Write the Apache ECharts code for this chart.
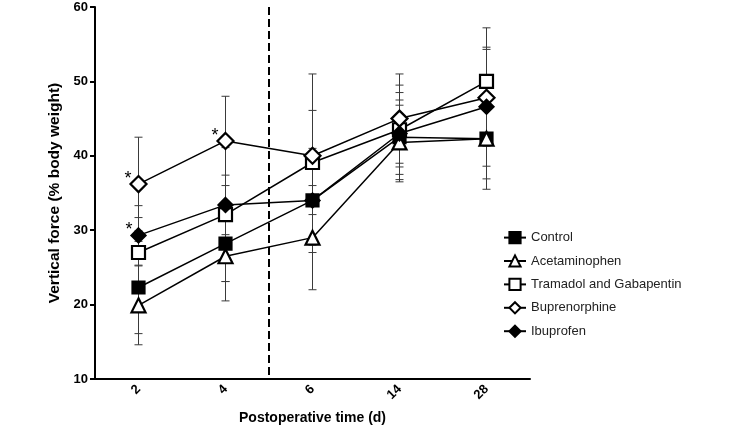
<!DOCTYPE html>
<html>
<head>
<meta charset="utf-8">
<script src="https://cdn.jsdelivr.net/npm/echarts@6/dist/echarts.min.js"></script>
<style>
html,body{margin:0;padding:0;background:#fff;}
#chart{width:745px;height:430px;}
</style>
</head>
<body>
<div id="chart"></div>
<script>
// ---- data ----
const categories = ['2', '4', '6', '14', '28'];
const yTicks = [10, 20, 30, 40, 50, 60];

const controlMean = [22.3, 28.2, 34.0, 42.5, 42.3];
const controlErr  = [6.2, 5.1, 6.0, 6.0, 6.8];

const acetaminophenMean = [19.9, 26.5, 29.0, 41.8, 42.3];
const acetaminophenErr  = [5.3, 6.0, 7.0, 5.0, 5.4];

const tramadolMean = [27.0, 32.1, 39.1, 43.5, 50.0];
const tramadolErr  = [4.7, 9.0, 7.0, 6.0, 7.2];

const buprenorphineMean = [36.2, 42.0, 40.0, 45.0, 47.8];
const buprenorphineErr  = [6.3, 6.0, 11.0, 6.0, 6.5];

const ibuprofenMean = [29.3, 33.4, 34.0, 43.0, 46.6];
const ibuprofenErr  = [4.0, 4.0, 7.0, 4.5, 8.0];

// significance marks: [series name, category index]
const significant = [['Buprenorphine', 0], ['Ibuprofen', 0], ['Buprenorphine', 1]];

// boundary between day 4 and day 6 (category indices)
const boundaryBetween = [1, 2];

// ---- build ----
const groups = [
  {name: 'Control', mean: controlMean, err: controlErr, symbol: 'rect', size: 12, fill: '#000'},
  {name: 'Acetaminophen', mean: acetaminophenMean, err: acetaminophenErr, symbol: 'triangle', size: 14, fill: '#fff'},
  {name: 'Tramadol and Gabapentin', mean: tramadolMean, err: tramadolErr, symbol: 'rect', size: 13, fill: '#fff'},
  {name: 'Buprenorphine', mean: buprenorphineMean, err: buprenorphineErr, symbol: 'diamond', size: 16, fill: '#fff'},
  {name: 'Ibuprofen', mean: ibuprofenMean, err: ibuprofenErr, symbol: 'diamond', size: 14, fill: '#000'}
];

const FONT = 'Liberation Sans, Arial, sans-serif';

function errRender(params, api) {
  const x = api.value(0), v = api.value(1), e = api.value(2);
  const top = api.coord([x, v + e]);
  const bot = api.coord([x, v - e]);
  const cw = 4;
  const st = {stroke: '#3a3a3a', lineWidth: 1};
  return {
    type: 'group',
    children: [
      {type: 'line', shape: {x1: top[0], y1: top[1], x2: bot[0], y2: bot[1]}, style: st},
      {type: 'line', shape: {x1: top[0] - cw, y1: top[1], x2: top[0] + cw, y2: top[1]}, style: st},
      {type: 'line', shape: {x1: bot[0] - cw, y1: bot[1], x2: bot[0] + cw, y2: bot[1]}, style: st}
    ]
  };
}

const series = [];
groups.forEach(g => {
  series.push({
    name: g.name + ' SD',
    type: 'custom',
    renderItem: errRender,
    data: g.mean.map((m, i) => [i, m, g.err[i]]),
    z: 1,
    silent: true
  });
});
groups.forEach(g => {
  series.push({
    name: g.name,
    type: 'line',
    data: g.mean.map((m, i) => {
      const star = significant.some(s => s[0] === g.name && s[1] === i);
      if (!star) return m;
      return {value: m, label: {show: true, formatter: '*', position: 'left', offset: [7, -5],
        fontSize: 18, fontFamily: FONT, color: '#000'}};
    }),
    symbol: g.symbol,
    symbolSize: g.size,
    showAllSymbol: true,
    lineStyle: {color: '#000', width: 1.5},
    itemStyle: {color: g.fill, borderColor: '#000', borderWidth: 2.2},
    emphasis: {disabled: true},
    z: 3
  });
});
series.push({
  name: 'boundary',
  type: 'custom',
  silent: true,
  z: 2,
  renderItem: function (params, api) {
    const a = api.coord([boundaryBetween[0], yTicks[yTicks.length - 1]]);
    const b = api.coord([boundaryBetween[1], yTicks[0]]);
    const x = (a[0] + b[0]) / 2;
    return {type: 'line', shape: {x1: x, y1: a[1], x2: x, y2: b[1]},
      style: {stroke: '#000', lineWidth: 2, lineDash: [8, 4]}};
  },
  data: [[boundaryBetween[0], yTicks[0]]]
});

const chart = echarts.init(document.getElementById('chart'), null, {renderer: 'canvas'});
chart.setOption({
  animation: false,
  backgroundColor: '#fff',
  textStyle: {fontFamily: FONT},
  grid: {left: 95, right: 215, top: 7, bottom: 46, containLabel: false},
  legend: {
    orient: 'vertical',
    left: 498,
    top: 226,
    itemWidth: 22,
    itemHeight: 14,
    itemGap: 10.2,
    data: groups.map(g => g.name),
    textStyle: {fontFamily: FONT, fontSize: 13, color: '#222'},
    selectedMode: false
  },
  xAxis: {
    type: 'category',
    data: categories,
    boundaryGap: true,
    name: 'Postoperative time (d)',
    nameLocation: 'middle',
    nameGap: 32,
    nameTextStyle: {fontFamily: FONT, fontSize: 14, fontWeight: 'bold', color: '#000'},
    axisLine: {lineStyle: {color: '#000', width: 2}},
    axisTick: {alignWithLabel: true, length: 5, lineStyle: {color: '#000', width: 2}},
    axisLabel: {rotate: 45, fontFamily: FONT, fontSize: 13, fontWeight: 'bold', color: '#000', margin: 8},
    splitLine: {show: false}
  },
  yAxis: {
    type: 'value',
    min: yTicks[0],
    max: yTicks[yTicks.length - 1],
    interval: 10,
    name: 'Vertical force (% body weight)',
    nameLocation: 'middle',
    nameGap: 27,
    nameTextStyle: {fontFamily: FONT, fontSize: 15.5, fontWeight: 'bold', color: '#000'},
    axisLine: {show: true, lineStyle: {color: '#000', width: 2}},
    axisTick: {show: true, length: 5, lineStyle: {color: '#000', width: 2}},
    axisLabel: {fontFamily: FONT, fontSize: 13, fontWeight: 'bold', color: '#000', margin: 7},
    splitLine: {show: false}
  },
  series: series
});
</script>
</body>
</html>
